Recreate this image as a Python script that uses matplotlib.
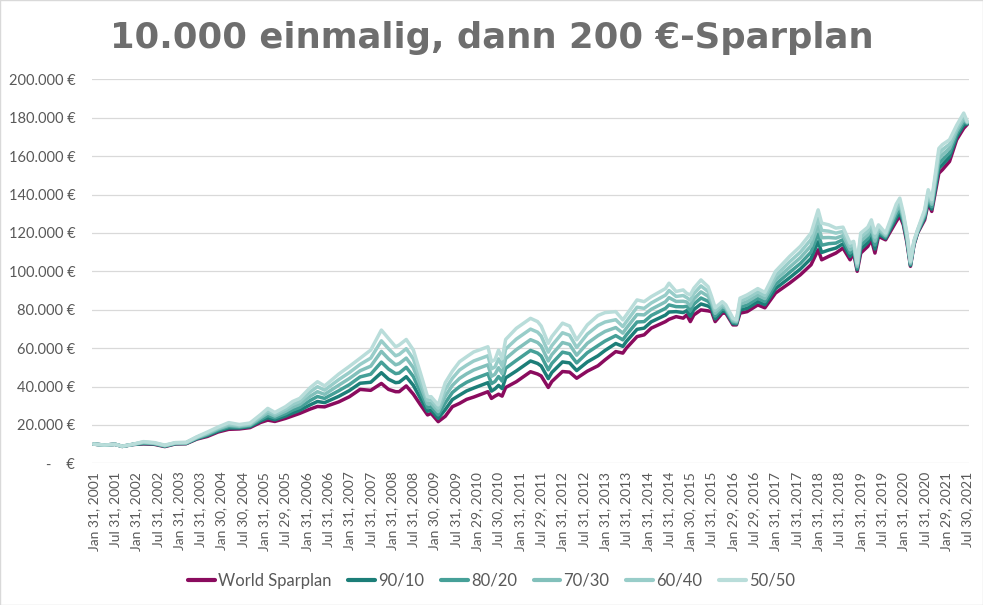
"""
Sparplan comparison chart: 10.000 EUR lump sum, then 200 EUR per month
"""

import matplotlib
matplotlib.use("Agg")
import matplotlib.pyplot as plt
import numpy as np
from matplotlib.ticker import FuncFormatter
from matplotlib.patches import Rectangle

months = [
    "2001-01", "2001-04", "2001-07", "2001-09", "2001-12",
    "2002-03", "2002-06", "2002-09", "2002-12",
    "2003-03", "2003-06", "2003-09", "2003-12",
    "2004-03", "2004-06", "2004-09", "2004-12",
    "2005-02", "2005-04", "2005-07", "2005-09", "2005-11",
    "2006-02", "2006-04", "2006-06", "2006-10",
    "2007-01", "2007-04", "2007-07", "2007-10", "2007-12",
    "2008-02", "2008-03", "2008-05", "2008-07", "2008-09", "2008-11", "2008-12",
    "2009-02", "2009-04", "2009-06", "2009-08", "2009-10", "2009-12",
    "2010-04", "2010-05", "2010-06", "2010-07", "2010-08", "2010-09", "2010-12",
    "2011-04", "2011-06", "2011-07", "2011-09", "2011-10",
    "2012-01", "2012-03", "2012-05", "2012-08", "2012-11",
    "2013-01", "2013-04", "2013-06", "2013-07", "2013-10", "2013-12",
    "2014-02", "2014-06", "2014-07", "2014-09", "2014-11", "2014-12",
    "2015-01", "2015-02", "2015-04", "2015-06", "2015-07", "2015-08", "2015-10", "2015-11",
    "2016-01", "2016-02", "2016-03", "2016-05", "2016-08", "2016-10",
    "2017-01", "2017-05", "2017-08", "2017-11",
    "2018-01", "2018-02", "2018-04", "2018-06", "2018-08", "2018-10", "2018-11", "2018-12",
    "2019-01", "2019-03", "2019-04", "2019-05", "2019-06", "2019-08", "2019-11", "2019-12",
    "2020-01", "2020-02", "2020-03", "2020-04", "2020-05", "2020-07", "2020-08", "2020-09", "2020-11", "2020-12",
    "2021-02", "2021-04", "2021-06", "2021-07",
]

world = [
    10.0, 9.5, 9.9, 8.8, 9.8,
    10.1, 9.9, 8.7, 10.1,
    10.2, 12.6, 14.0, 16.3,
    17.7, 17.9, 18.6, 21.3,
    22.5, 21.8, 23.4, 24.7, 26.0,
    28.3, 29.6, 29.4, 32.0,
    34.7, 38.5, 38.0, 41.6, 38.5,
    37.3, 37.3, 40.3, 36.0, 30.5, 25.2, 26.0,
    21.7, 24.5, 29.5, 31.2, 33.3, 34.5,
    37.3, 33.8, 35.0, 36.0, 35.0, 39.5, 42.5,
    47.7, 46.5, 45.5, 39.5, 42.6,
    47.8, 47.5, 44.3, 48.0, 50.8,
    53.9, 58.2, 57.4, 60.0, 66.0, 66.9,
    70.4, 73.8, 75.0, 76.4, 75.6, 77.3,
    73.8, 77.3, 79.9, 79.4, 79.0, 73.8, 78.2, 78.2,
    72.1, 72.1, 78.2, 79.0, 82.5, 81.0,
    88.7, 93.9, 98.2, 103.4,
    111.2, 106.0, 107.8, 109.5, 112.1, 106.0, 109.5, 100.0,
    109.5, 113.0, 116.4, 109.5, 118.2, 116.4, 126.0, 128.9,
    124.2, 115.0, 102.6, 113.8, 119.9, 126.8, 135.5, 131.2, 151.1, 152.9,
    157.2, 168.5, 174.5, 176.5,
]

mix_90_10 = [
    10.0, 9.5, 9.9, 8.8, 9.8,
    10.3, 10.1, 8.9, 10.2,
    10.3, 12.8, 14.5, 16.8,
    18.4, 18.4, 19.1, 22.1,
    23.7, 22.7, 24.6, 26.2, 27.6,
    30.5, 32.2, 31.6, 34.9,
    37.9, 41.7, 42.2, 47.2, 43.8,
    42.0, 42.2, 45.1, 40.6, 33.8, 27.1, 27.7,
    23.4, 28.0, 33.2, 35.5, 37.7, 39.2,
    42.0, 37.6, 38.8, 40.6, 38.9, 44.5, 48.1,
    53.3, 52.0, 50.7, 44.1, 47.3,
    52.8, 52.3, 48.3, 52.8, 56.0,
    58.8, 62.4, 60.9, 63.5, 69.8, 70.4,
    73.7, 77.2, 78.8, 79.0, 78.5, 79.5,
    76.6, 80.1, 83.0, 81.9, 80.6, 75.2, 79.4, 79.1,
    72.8, 72.6, 79.8, 80.7, 84.2, 82.6,
    91.0, 96.7, 101.2, 106.7,
    115.4, 109.8, 111.1, 112.1, 114.3, 107.7, 110.7, 100.9,
    111.6, 115.0, 118.5, 111.6, 119.4, 117.1, 127.8, 130.7,
    125.4, 116.0, 103.1, 114.2, 120.2, 127.8, 136.9, 132.4, 153.7, 155.5,
    159.5, 170.0, 176.1, 176.8,
]

mix_80_20 = [
    10.0, 9.5, 9.9, 8.8, 9.8,
    10.6, 10.3, 9.0, 10.4,
    10.5, 13.1, 14.9, 17.3,
    19.1, 18.8, 19.6, 22.9,
    24.9, 23.7, 25.8, 27.7, 29.1,
    32.8, 34.8, 33.8, 37.8,
    41.0, 45.0, 46.4, 52.7, 49.1,
    46.7, 47.0, 50.0, 45.2, 37.1, 29.0, 29.5,
    25.2, 31.5, 36.9, 39.9, 42.2, 43.9,
    46.7, 41.5, 42.6, 45.2, 42.8, 49.5, 53.6,
    58.8, 57.4, 55.9, 48.7, 52.0,
    57.9, 57.1, 52.3, 57.6, 61.3,
    63.7, 66.5, 64.3, 66.9, 73.6, 73.8,
    77.0, 80.7, 82.5, 81.6, 81.5, 81.8,
    79.4, 82.9, 86.1, 84.4, 82.1, 76.7, 80.6, 79.9,
    73.5, 73.1, 81.3, 82.5, 85.9, 84.2,
    93.2, 99.5, 104.1, 110.0,
    119.5, 113.6, 114.4, 114.7, 116.5, 109.5, 111.9, 101.7,
    113.7, 117.0, 120.6, 113.7, 120.6, 117.8, 129.6, 132.6,
    126.6, 117.0, 103.6, 114.7, 120.6, 128.9, 138.3, 133.6, 156.3, 158.1,
    161.7, 171.5, 177.7, 177.1,
]

mix_70_30 = [
    10.0, 9.5, 9.9, 8.9, 9.9,
    10.8, 10.4, 9.2, 10.5,
    10.6, 13.3, 15.4, 17.9,
    19.8, 19.3, 20.0, 23.8,
    26.2, 24.6, 27.1, 29.2, 30.7,
    35.0, 37.3, 35.9, 40.7,
    44.2, 48.2, 50.6, 58.3, 54.4,
    51.3, 51.9, 54.8, 49.8, 40.4, 30.9, 31.2,
    26.9, 35.0, 40.6, 44.2, 46.6, 48.6,
    51.3, 45.3, 46.4, 49.8, 46.7, 54.5, 59.2,
    64.4, 62.9, 61.1, 53.3, 56.6,
    62.9, 61.9, 56.3, 62.5, 66.5,
    68.7, 70.7, 67.8, 70.4, 77.5, 77.3,
    80.2, 84.1, 86.3, 84.3, 84.4, 84.0,
    82.1, 85.6, 89.3, 87.0, 83.7, 78.1, 81.8, 80.8,
    74.2, 73.7, 82.9, 84.2, 87.6, 85.8,
    95.5, 102.2, 107.1, 113.3,
    123.7, 117.5, 117.6, 117.3, 118.6, 111.2, 113.2, 102.6,
    115.7, 119.0, 122.6, 115.7, 121.8, 118.5, 131.4, 134.4,
    127.9, 118.0, 104.2, 115.1, 120.9, 129.9, 139.7, 134.9, 158.8, 160.8,
    164.0, 173.0, 179.2, 177.4,
]

mix_60_40 = [
    10.0, 9.5, 9.9, 8.9, 9.9,
    11.1, 10.6, 9.3, 10.7,
    10.8, 13.6, 15.8, 18.4,
    20.5, 19.7, 20.5, 24.6,
    27.4, 25.6, 28.3, 30.7, 32.2,
    37.3, 39.9, 38.1, 43.6,
    47.3, 51.5, 54.8, 63.8, 59.7,
    56.0, 56.7, 59.7, 54.4, 43.7, 32.8, 33.0,
    28.7, 38.5, 44.3, 48.6, 51.1, 53.3,
    56.0, 49.2, 50.2, 54.4, 50.6, 59.5, 64.7,
    69.9, 68.3, 66.3, 57.9, 61.3,
    68.0, 66.7, 60.3, 67.3, 71.8,
    73.6, 74.8, 71.2, 73.8, 81.3, 80.7,
    83.5, 87.6, 90.0, 86.9, 87.4, 86.3,
    84.9, 88.4, 92.4, 89.5, 85.2, 79.6, 83.0, 81.6,
    74.9, 74.2, 84.4, 86.0, 89.3, 87.4,
    97.7, 105.0, 110.0, 116.6,
    127.8, 121.3, 120.9, 119.9, 120.8, 113.0, 114.4, 103.4,
    117.8, 121.0, 124.7, 117.8, 123.0, 119.2, 133.2, 136.3,
    129.1, 119.0, 104.7, 115.6, 121.3, 131.0, 141.1, 136.1, 161.4, 163.4,
    166.2, 174.5, 180.8, 177.7,
]

mix_50_50 = [
    10.0, 9.5, 9.9, 8.9, 9.9,
    11.3, 10.8, 9.5, 10.8,
    10.9, 13.8, 16.3, 18.9,
    21.2, 20.2, 21.0, 25.4,
    28.6, 26.5, 29.5, 32.2, 33.8,
    39.5, 42.5, 40.3, 46.5,
    50.5, 54.7, 59.0, 69.4, 65.0,
    60.7, 61.6, 64.5, 59.0, 47.0, 34.7, 34.7,
    30.4, 42.0, 48.0, 52.9, 55.5, 58.0,
    60.7, 53.0, 54.0, 59.0, 54.5, 64.5, 70.3,
    75.5, 73.8, 71.5, 62.5, 66.0,
    73.0, 71.5, 64.3, 72.1, 77.0,
    78.5, 79.0, 74.7, 77.3, 85.1, 84.2,
    86.8, 91.0, 93.8, 89.5, 90.3, 88.5,
    87.7, 91.2, 95.5, 92.0, 86.8, 81.0, 84.2, 82.5,
    75.6, 74.7, 86.0, 87.7, 91.0, 89.0,
    100.0, 107.8, 113.0, 119.9,
    132.0, 125.1, 124.2, 122.5, 123.0, 114.7, 115.6, 104.3,
    119.9, 123.0, 126.8, 119.9, 124.2, 119.9, 135.0, 138.1,
    130.3, 120.0, 105.2, 116.0, 121.6, 132.0, 142.5, 137.3, 164.0, 166.0,
    168.5, 176.0, 182.4, 178.0,
]

series_names = ["World Sparplan", "90/10", "80/20", "70/30", "60/40", "50/50"]
series_colors = ["#8A0B5E", "#1C7E78", "#46A098", "#82C0BB", "#98CDC9", "#B9DDDA"]

tick_labels = [
    "Jan 31, 2001", "Jul 31, 2001", "Jan 31, 2002", "Jul 31, 2002",
    "Jan 31, 2003", "Jul 31, 2003", "Jan 30, 2004", "Jul 30, 2004",
    "Jan 31, 2005", "Jul 29, 2005", "Jan 31, 2006", "Jul 31, 2006",
    "Jan 31, 2007", "Jul 31, 2007", "Jan 31, 2008", "Jul 31, 2008",
    "Jan 30, 2009", "Jul 31, 2009", "Jan 29, 2010", "Jul 30, 2010",
    "Jan 31, 2011", "Jul 29, 2011", "Jan 31, 2012", "Jul 31, 2012",
    "Jan 31, 2013", "Jul 31, 2013", "Jan 31, 2014", "Jul 31, 2014",
    "Jan 30, 2015", "Jul 31, 2015", "Jan 29, 2016", "Jul 29, 2016",
    "Jan 31, 2017", "Jul 31, 2017", "Jan 31, 2018", "Jul 31, 2018",
    "Jan 31, 2019", "Jul 31, 2019", "Jan 31, 2020", "Jul 31, 2020",
    "Jan 29, 2021", "Jul 30, 2021",
]


def month_index(ym):
    """Months since Jan 2001 (category position on the axis)"""
    y, m = ym.split("-")
    return (int(y) - 2001) * 12 + int(m) - 1


def euro_fmt(v, pos):
    if v == 0:
        return "-    €"
    return f"{int(round(v)):,} €".replace(",", ".")


TEXT = "#595959"
GRID = "#D9D9D9"

plt.rcParams["font.family"] = ["Lato", "DejaVu Sans"]

fig = plt.figure(figsize=(9.83, 6.05), dpi=100)
ax = fig.add_axes([0.0936, 0.2342, 0.8922, 0.6347])

x = np.array([month_index(m) for m in months])
all_series = [world, mix_90_10, mix_80_20, mix_70_30, mix_60_40, mix_50_50]

for vals, name, col in zip(all_series, series_names, series_colors):
    ax.plot(x, np.array(vals) * 1000, color=col, lw=2.5, label=name,
            solid_joinstyle="round", solid_capstyle="round")

n_months = month_index("2021-07") + 1
ax.set_xlim(-0.5, n_months - 0.5)
ax.set_ylim(0, 200000)

ax.set_yticks(np.arange(0, 200001, 20000))
ax.yaxis.set_major_formatter(FuncFormatter(euro_fmt))
ax.set_xticks(np.arange(0, n_months, 6))
ax.set_xticklabels(tick_labels, rotation=90)

ax.grid(axis="y", color=GRID, lw=0.9)
ax.set_axisbelow(True)
for s in ax.spines.values():
    s.set_visible(False)
ax.tick_params(axis="both", length=0, colors=TEXT, labelsize=10)
ax.tick_params(axis="y", pad=12, labelsize=10.5)
ax.tick_params(axis="x", pad=6)

fig.text(0.5, 0.937, "10.000 einmalig, dann 200 €-Sparplan", ha="center", va="center",
         fontsize=25.5, fontweight="bold", color="#6E6E6E", family="DejaVu Sans")

leg = fig.legend(loc="center", bbox_to_anchor=(0.5, 0.040), ncol=6, frameon=False,
                 fontsize=12, handlelength=1.6, handletextpad=0.2, columnspacing=1.0)
for t in leg.get_texts():
    t.set_color(TEXT)
for h in leg.get_lines():
    h.set_linewidth(3)

# thin chart-area border
fig.patches.append(Rectangle((0.0005, 0.0008), 0.999, 0.9985, transform=fig.transFigure,
                             fill=False, edgecolor=GRID, lw=1))

fig.savefig("out.png", dpi=100)
